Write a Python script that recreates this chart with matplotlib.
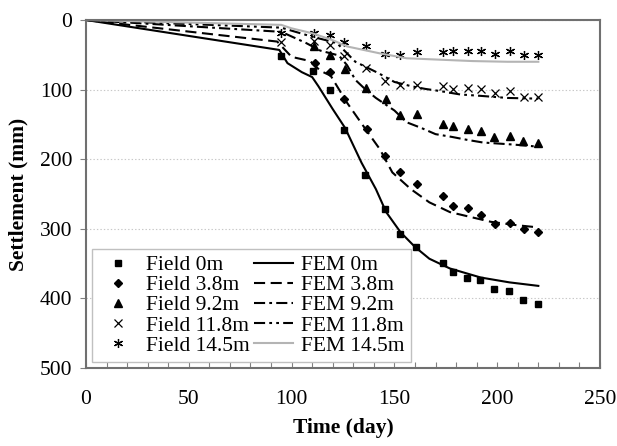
import matplotlib
matplotlib.use("Agg")
import matplotlib.pyplot as plt

plt.rcParams['font.family'] = ['Liberation Serif', 'DejaVu Serif']
plt.rcParams['lines.scale_dashes'] = False

# Field measurements
f0_t = [95, 110.5, 118.7, 125.5, 135.7, 145.4, 152.7, 160.4, 173.5, 178.3, 185.5, 191.6, 198.4, 205.6, 212.7, 219.8]
f0_s = [52, 73, 101, 158, 223, 271, 308, 326, 349, 362, 371, 374, 386, 390, 403, 408]

f38_t = [111.4, 118.7, 125.6, 136.5, 145.4, 152.7, 160.8, 173.8, 178.7, 186, 192, 199, 206, 213, 220]
f38_s = [62, 75, 113, 156, 195, 219, 236, 253, 267, 270, 280, 293, 292, 300, 305]

f92_t = [111, 118.7, 126, 136, 146, 152.7, 160.8, 173.8, 178.7, 186, 192, 198.4, 206, 212.7, 220]
f92_s = [38, 50, 71, 98, 114, 136, 135, 150, 152, 156, 159, 168, 166, 174, 177]

f118_t = [95, 111, 118.7, 125.5, 136, 145.4, 152.7, 160.8, 173.8, 178.7, 186, 192, 199, 206, 213, 220]
f118_s = [32, 30, 36, 52, 69, 87, 93, 94, 95, 99, 98, 99, 105, 102, 110, 110]

f145_t = [95, 111, 118.7, 125.5, 136, 145.4, 152.7, 160.8, 173.8, 178.7, 186, 192, 199, 206, 213, 220]
f145_s = [18, 18, 21, 32, 38, 49, 50, 46, 46, 44, 44, 44, 49, 44, 51, 50]

# FEM predictions
fem0_t = [0, 94, 98, 105, 110, 113, 120, 126, 134, 141, 146, 153, 160, 167, 177, 192, 206, 220]
fem0_s = [0, 43, 62, 75, 82, 95, 128, 155, 205, 243, 276, 305, 326, 343, 357, 370, 377, 382]

fem38_t = [0, 93, 100, 109, 114, 119, 127, 136, 143, 149, 158, 167, 177, 187, 197, 210, 220]
fem38_s = [0, 31, 53, 59, 73, 80, 119, 157, 186, 219, 243, 262, 276, 283, 290, 295, 298]

fem92_t = [0, 95, 107, 114, 123, 127, 131, 136, 141, 150, 156, 163, 170, 178, 185, 193, 208, 220]
fem92_s = [0, 17, 33, 44, 51, 65, 86, 100, 112, 130, 147, 155, 164, 168, 172, 176, 179, 182]

fem118_t = [0, 95, 110, 122, 131, 142, 150, 158, 165, 172, 182, 192, 205, 220]
fem118_s = [0, 11, 24, 33, 60, 76, 89, 95, 99, 102, 107, 109, 112, 113]

fem145_t = [0, 95, 100, 110, 120, 127, 135, 143, 156, 172, 188, 205, 220]
fem145_s = [0, 7, 12, 19, 29, 38, 43, 48, 55, 57, 59, 60, 60]

xticks = [0, 50, 100, 150, 200, 250]
yticks = [0, 100, 200, 300, 400, 500]

fig = plt.figure(figsize=(6.17, 4.46), dpi=100)
ax = fig.add_axes([86/617, 1-368/446, (600-86)/617, (368-20)/446])

ms = 5
h_f0, = ax.plot(f0_t, f0_s, 's', color='black', ms=ms, ls='none', label='Field 0m')
h_f38, = ax.plot(f38_t, f38_s, 'D', color='black', ms=ms-0.5, ls='none', label='Field 3.8m')
h_f92, = ax.plot(f92_t, f92_s, '^', color='black', ms=ms+0.5, ls='none', label='Field 9.2m')
h_f118, = ax.plot(f118_t, f118_s, 'x', color='black', ms=ms+0.5, mew=0.9, ls='none', label='Field 11.8m')
h_f145, = ax.plot(f145_t, f145_s, marker=(6, 2, 0), color='black', ms=ms+1.5, mew=0.9, ls='none', label='Field 14.5m')

h_m0, = ax.plot(fem0_t, fem0_s, '-', color='black', lw=1.5, label='FEM 0m')
h_m38, = ax.plot(fem38_t, fem38_s, color='black', lw=1.5, dashes=(8, 4), label='FEM 3.8m')
h_m92, = ax.plot(fem92_t, fem92_s, color='black', lw=1.5, dashes=(8, 3, 2, 3), label='FEM 9.2m')
h_m118, = ax.plot(fem118_t, fem118_s, color='black', lw=1.5, dashes=(8, 3, 2, 3, 2, 3), label='FEM 11.8m')
h_m145, = ax.plot(fem145_t, fem145_s, '-', color='#b4b4b4', lw=1.5, label='FEM 14.5m')

ax.set_xlim(0, 250)
ax.set_ylim(500, 0)
ax.set_xticks(xticks)
ax.set_yticks(yticks)
ax.set_xticks(range(0, 251, 10), minor=True)
ax.tick_params(axis='x', which='both', direction='in', length=4, width=0.8, color='#808080', pad=16, labelsize=15.5)
ax.tick_params(axis='y', which='major', direction='out', length=4, width=0.8, color='#808080', pad=6, labelsize=15.5)
ax.yaxis.grid(True, linestyle=(0, (1, 1.5)), color='#c8c8c8', lw=0.8)
ax.set_axisbelow(True)
for sp in ax.spines.values():
    sp.set_color('#707070')
    sp.set_linewidth(1.5)

ax.set_xlabel('Time (day)', fontsize=15.5, fontweight='bold', labelpad=6)
ax.set_ylabel('Settlement (mm)', fontsize=15.5, fontweight='bold', labelpad=8)

handles = [h_f0, h_f38, h_f92, h_f118, h_f145, h_m0, h_m38, h_m92, h_m118, h_m145]
leg = ax.legend(handles=handles, ncol=2, loc='lower left', bbox_to_anchor=(0.012, 0.017),
                fontsize=15.5, frameon=True, fancybox=False, framealpha=1,
                edgecolor='#c0c0c0', labelspacing=0.0, handlelength=1.8,
                handletextpad=0.4, columnspacing=0.2, borderpad=0.3, numpoints=1,
                borderaxespad=0)
leg.get_frame().set_linewidth(1.0)

fig.savefig('out.png', dpi=100)
